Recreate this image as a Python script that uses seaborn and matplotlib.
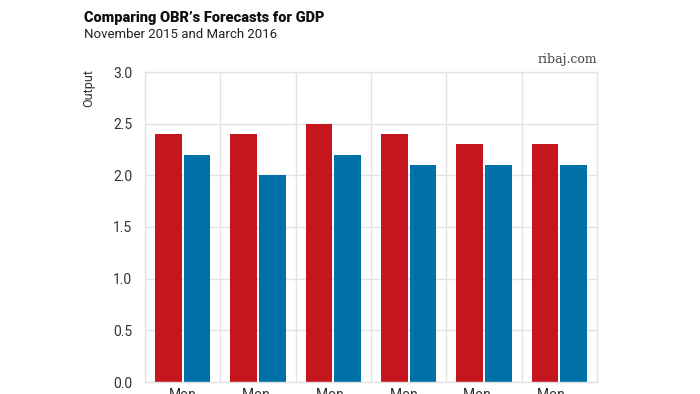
"""
plot.py

Comparing OBR's forecasts for GDP, November 2015 vs March 2016.
"""

import pandas as pd
import matplotlib.pyplot as plt
import seaborn as sns

periods = ["Mon", "Mon ", "Mon  ", "Mon   ", "Mon    ", "Mon     "]
nov_2015 = [2.4, 2.4, 2.5, 2.4, 2.3, 2.3]
mar_2016 = [2.2, 2.0, 2.2, 2.1, 2.1, 2.1]
series_names = ["November 2015", "March 2016"]
y_ticks = [0.0, 0.5, 1.0, 1.5, 2.0, 2.5, 3.0]

RED = "#c4161c"
BLUE = "#0070a8"
GRID = "#e3e3e3"


# ====================
def main():

    data = pd.DataFrame({
        "Period": periods * 2,
        "Output": nov_2015 + mar_2016,
        "Forecast": [series_names[0]] * len(periods)
                    + [series_names[1]] * len(periods),
    })

    sns.set_style("white")
    plt.rcParams["font.family"] = ["Roboto", "DejaVu Sans"]

    fig = plt.figure(figsize=(7, 3.94), dpi=100)
    ax = fig.add_axes([145 / 700, 1 - 382 / 394, 452 / 700, 310 / 394])

    sns.barplot(data=data, x="Period", y="Output", hue="Forecast",
                palette=[RED, BLUE], saturation=1, width=0.76, gap=0.06,
                linewidth=0, legend=False, ax=ax)

    ax.set_ylim(0, 3.0)
    ax.set_xlim(-0.5, len(periods) - 0.5)
    ax.set_yticks(y_ticks)
    ax.set_yticklabels([f"{t:.1f}" for t in y_ticks], fontsize=10,
                       color="#333333")
    # Vertical grid lines sit between the groups
    ax.set_xticks([i + 0.5 for i in range(len(periods) - 1)], minor=True)
    ax.grid(axis="y", color=GRID, linewidth=1)
    ax.grid(axis="x", which="minor", color=GRID, linewidth=1)
    ax.set_axisbelow(True)
    ax.tick_params(axis="x", which="both", length=0, labelsize=10,
                   labelcolor="#333333", pad=4)
    ax.tick_params(axis="y", length=0, pad=9)
    for side in ["left", "right", "top", "bottom"]:
        ax.spines[side].set_color(GRID)
        ax.spines[side].set_linewidth(1)

    ax.set_xlabel("")
    ax.set_ylabel("")
    fig.text(89 / 700, 1 - 88 / 394, "Output", rotation=90, fontsize=9,
             color="#333333", ha="center", va="center")

    fig.text(84 / 700, 1 - 18 / 394, "Comparing OBR\u2019s Forecasts for GDP",
             fontsize=10.5, fontweight="heavy", color="#111111",
             ha="left", va="center")
    fig.text(84 / 700, 1 - 35 / 394, "November 2015 and March 2016",
             fontsize=9.5, color="#222222", ha="left", va="center")
    fig.text(597 / 700, 1 - 59 / 394, "ribaj.com", fontsize=9,
             family="DejaVu Serif", color="#444444",
             ha="right", va="center")

    fig.savefig("out.png", dpi=100)


# ====================
if __name__ == "__main__":

    main()
